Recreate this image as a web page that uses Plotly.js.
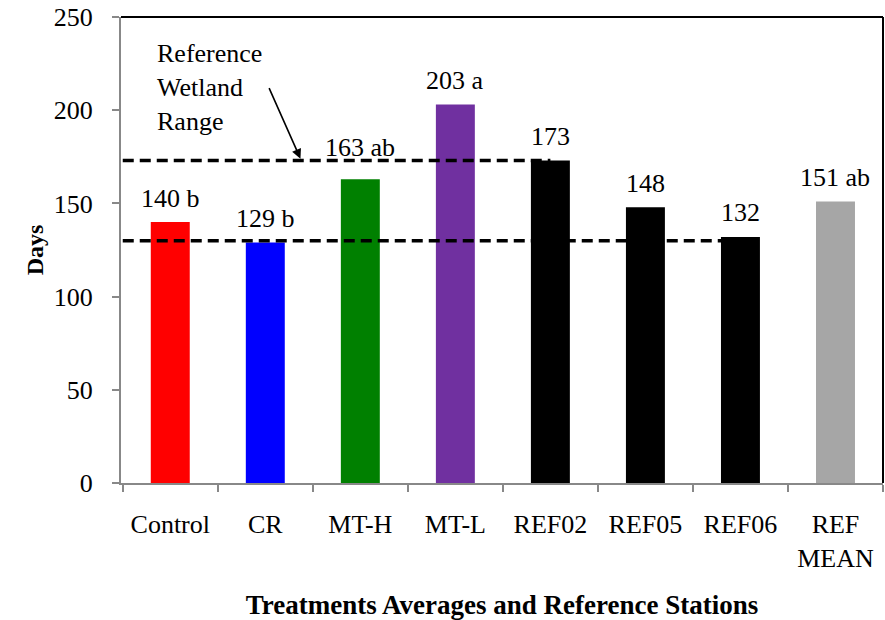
<!DOCTYPE html>
<html>
<head>
<meta charset="utf-8">
<script src="https://cdn.plot.ly/plotly-3.0.1.min.js"></script>
<style>html,body{margin:0;padding:0;background:#fff;}#chart{width:885px;height:620px;}</style>
</head>
<body>
<div id="chart"></div>
<script>
// ---- data ----
const categories = ["Control", "CR", "MT-H", "MT-L", "REF02", "REF05", "REF06", "REF<br>MEAN"];
const days = [140, 129, 163, 203, 173, 148, 132, 151];
const groupLetters = ["b", "b", "ab", "a", "", "", "", "ab"];
const barColors = ["#FF0000", "#0000FF", "#008000", "#7030A0", "#000000", "#000000", "#000000", "#A6A6A6"];
// reference wetland range (dashed lines): [low, high]
const refRange = [130, 173];
// stations where each dashed line ends: [low line, high line]
const refRangeEnd = ["REF06", "REF02"];

const FONT = '"Liberation Serif", "Times New Roman", Times, serif';

const trace = {
  type: 'bar',
  x: categories,
  y: days,
  marker: {color: barColors, line: {width: 0}},
  hoverinfo: 'x+y'
};

const valueLabels = categories.map((c, i) => ({
  x: c, y: days[i], xref: 'x', yref: 'y',
  text: groupLetters[i] ? days[i] + ' ' + groupLetters[i] : String(days[i]),
  showarrow: false, yanchor: 'middle', xanchor: 'center',
  yshift: c === 'MT-H' ? 32 : 24,
  font: {family: FONT, size: 26, color: '#000'}
}));

const dashLines = refRange.map((v, i) => ({
  type: 'line', xref: 'x', yref: 'y',
  x0: -0.5, x1: categories.indexOf(refRangeEnd[i]), y0: v, y1: v,
  line: {color: '#000', width: 3.5, dash: '11px,6px'}
}));

const layout = {
  width: 885, height: 620,
  margin: {l: 121, r: 2, t: 17, b: 137, pad: 0},
  paper_bgcolor: '#fff', plot_bgcolor: '#fff',
  showlegend: false,
  bargap: 0.59,
  font: {family: FONT, color: '#000'},
  xaxis: {
    type: 'category',
    showline: true, linecolor: '#888', linewidth: 2,
    ticks: 'outside', tickson: 'boundaries', ticklen: 7, tickwidth: 2, tickcolor: '#888',
    tickfont: {family: FONT, size: 26, color: '#000'},
    ticklabelstandoff: 17,
    showgrid: false, zeroline: false,
    title: {text: '<b>Treatments Averages and Reference Stations</b>', font: {family: FONT, size: 27, color: '#000'}, standoff: 26}
  },
  yaxis: {
    range: [0, 250], dtick: 50, tick0: 0,
    showline: true, linecolor: '#888', linewidth: 2,
    ticks: 'outside', ticklen: 7, tickwidth: 2, tickcolor: '#888',
    tickfont: {family: FONT, size: 26, color: '#000'},
    ticklabelstandoff: 14,
    showgrid: false, zeroline: false,
    title: {text: '<b>Days</b>', font: {family: FONT, size: 24, color: '#000'}, standoff: 3}
  },
  shapes: [
    {type: 'line', xref: 'paper', yref: 'paper', x0: 0, x1: 1, y0: 1, y1: 1, line: {color: '#000', width: 2}},
    {type: 'line', xref: 'paper', yref: 'paper', x0: 1, x1: 1, y0: 0, y1: 1, line: {color: '#000', width: 2}}
  ].concat(dashLines),
  annotations: valueLabels.concat([
    {x: -0.165, y: 212, xref: 'x', yref: 'y', xanchor: 'left', yanchor: 'middle', align: 'left',
     text: 'Reference<br>Wetland<br>Range', showarrow: false,
     font: {family: FONT, size: 26, color: '#000'}},
    {x: 1.37, y: refRange[1] + 1, xref: 'x', yref: 'y', text: '', showarrow: true,
     arrowhead: 2, arrowsize: 1.2, arrowwidth: 1.6, arrowcolor: '#000',
     ax: -32, ay: -72, standoff: 0}
  ])
};

Plotly.newPlot('chart', [trace], layout, {displayModeBar: false, staticPlot: true});
</script>
</body>
</html>
